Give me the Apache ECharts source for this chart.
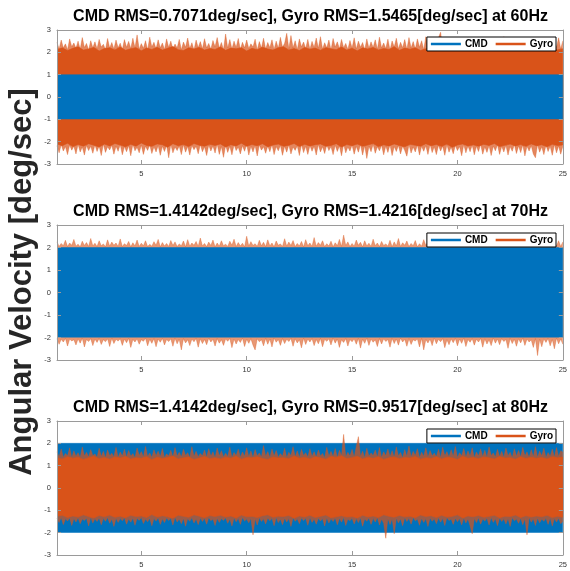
<!DOCTYPE html>
<html>
<head>
<meta charset="utf-8">
<script src="https://cdn.jsdelivr.net/npm/echarts@6/dist/echarts.min.js"></script>
<style>html,body{margin:0;padding:0;background:#fff;}#chart{width:570px;height:571px;}</style>
</head>
<body>
<div id="chart"></div>
<script>
// ---- Data ----
const titles = [
  'CMD RMS=0.7071deg/sec], Gyro RMS=1.5465[deg/sec] at 60Hz',
  'CMD RMS=1.4142deg/sec], Gyro RMS=1.4216[deg/sec] at 70Hz',
  'CMD RMS=1.4142deg/sec], Gyro RMS=0.9517[deg/sec] at 80Hz'
];
const yLabel = 'Angular Velocity [deg/sec]';
const legendNames = ['CMD', 'Gyro'];
const xTicks = [5, 10, 15, 20, 25];
const yTicks = [-3, -2, -1, 0, 1, 2, 3];
const xRange = [1, 25];

// CMD sine band (constant amplitude envelope)
const cmdTime = [1, 25];
const cmdAmp = [1, 2, 2];

// Gyro spike envelopes, sampled every 0.1 s from t = 1 s
const S0 = 1, SDT = 0.1;
const g1Hi = [2.45,2.15,2.55,2.2,2.38,2.12,2.6,2.25,2.42,2.18,
  2.5,2.14,2.66,2.22,2.4,2.1,2.52,2.2,2.47,2.16,
  2.58,2.24,2.36,2.12,2.62,2.19,2.44,2.15,2.55,2.21,
  2.41,2.13,2.57,2.23,2.49,2.17,2.63,2.2,2.78,2.14,
  2.39,2.18,2.52,2.11,2.68,2.24,2.45,2.16,2.56,2.2,
  2.42,2.13,2.6,2.22,2.5,2.15,2.37,2.19,2.58,2.12,
  2.46,2.23,2.64,2.17,2.43,2.1,2.55,2.21,2.48,2.16,
  2.61,2.2,2.4,2.14,2.53,2.25,2.66,2.18,2.44,2.12,
  2.82,2.19,2.57,2.15,2.5,2.22,2.62,2.13,2.45,2.2,
  2.55,2.17,2.38,2.24,2.59,2.11,2.48,2.19,2.63,2.15,
  2.44,2.21,2.56,2.13,2.5,2.18,2.67,2.23,2.41,2.85,
  2.16,2.75,2.2,2.52,2.12,2.6,2.25,2.46,2.17,2.58,
  2.14,2.49,2.22,2.64,2.18,2.7,2.15,2.43,2.2,2.55,
  2.11,2.62,2.24,2.47,2.16,2.58,2.21,2.4,2.13,2.53,
  2.19,2.65,2.15,2.5,2.23,2.44,2.12,2.6,2.18,2.47,
  2.22,2.56,2.14,2.68,2.2,2.42,2.17,2.59,2.11,2.51,
  2.24,2.63,2.16,2.45,2.21,2.57,2.13,2.66,2.19,2.48,
  2.15,2.6,2.23,2.52,2.12,2.7,2.18,2.44,2.22,2.58,
  2.14,2.65,2.9,2.2,2.55,2.17,2.47,2.24,2.62,2.13,
  2.5,2.19,2.64,2.15,2.43,2.22,2.57,2.11,2.68,2.2,
  2.46,2.16,2.59,2.23,2.52,2.14,2.61,2.18,2.4,2.21,
  2.56,2.13,2.7,2.2,2.45,2.17,2.63,2.24,2.5,2.12,
  2.58,2.19,2.42,2.15,2.66,2.22,2.53,2.16,2.6,2.2,
  2.47,2.14,2.62,2.21,2.55,2.18,2.44,2.23,2.65,2.15,
  2.52];
const g1Lo = [-2.18,-2.5,-2.13,-2.42,-2.22,-2.58,-2.15,-2.38,-2.2,-2.55,
  -2.12,-2.46,-2.24,-2.6,-2.17,-2.4,-2.21,-2.52,-2.14,-2.44,
  -2.19,-2.62,-2.11,-2.48,-2.23,-2.37,-2.16,-2.56,-2.2,-2.43,
  -2.13,-2.59,-2.22,-2.45,-2.18,-2.63,-2.12,-2.41,-2.25,-2.5,
  -2.15,-2.57,-2.2,-2.39,-2.14,-2.53,-2.23,-2.46,-2.17,-2.61,
  -2.21,-2.44,-2.16,-2.72,-2.12,-2.5,-2.24,-2.4,-2.19,-2.58,
  -2.14,-2.47,-2.22,-2.6,-2.17,-2.36,-2.2,-2.54,-2.13,-2.45,
  -2.23,-2.62,-2.15,-2.42,-2.19,-2.51,-2.11,-2.57,-2.22,-2.7,
  -2.16,-2.48,-2.2,-2.59,-2.14,-2.4,-2.24,-2.55,-2.18,-2.43,
  -2.12,-2.6,-2.21,-2.46,-2.17,-2.64,-2.15,-2.38,-2.23,-2.52,
  -2.19,-2.45,-2.13,-2.58,-2.22,-2.41,-2.16,-2.61,-2.2,-2.47,
  -2.14,-2.55,-2.24,-2.39,-2.18,-2.62,-2.12,-2.49,-2.21,-2.57,
  -2.17,-2.43,-2.2,-2.6,-2.13,-2.46,-2.23,-2.53,-2.15,-2.4,
  -2.22,-2.58,-2.16,-2.44,-2.19,-2.63,-2.11,-2.5,-2.24,-2.42,
  -2.15,-2.56,-2.21,-2.47,-2.13,-2.6,-2.18,-2.75,-2.2,-2.45,
  -2.12,-2.52,-2.23,-2.41,-2.16,-2.59,-2.19,-2.48,-2.14,-2.62,
  -2.22,-2.44,-2.17,-2.55,-2.2,-2.4,-2.65,-2.13,-2.51,-2.24,
  -2.46,-2.15,-2.6,-2.21,-2.43,-2.18,-2.57,-2.12,-2.49,-2.23,
  -2.58,-2.16,-2.42,-2.2,-2.61,-2.14,-2.47,-2.24,-2.54,-2.17,
  -2.4,-2.22,-2.63,-2.13,-2.5,-2.19,-2.45,-2.15,-2.59,-2.21,
  -2.44,-2.12,-2.56,-2.23,-2.48,-2.17,-2.62,-2.2,-2.41,-2.14,
  -2.57,-2.21,-2.46,-2.16,-2.6,-2.22,-2.43,-2.13,-2.53,-2.19,
  -2.49,-2.15,-2.64,-2.2,-2.42,-2.18,-2.55,-2.72,-2.14,-2.47,
  -2.23,-2.58,-2.16,-2.44,-2.21,-2.61,-2.13,-2.5,-2.19,-2.56,
  -2.2];
const g2Hi = [2.25,2.05,2.18,2.08,2.32,2.04,2.2,2.1,2.36,2.06,
  2.15,2.03,2.28,2.09,2.22,2.05,2.4,2.07,2.19,2.04,
  2.3,2.08,2.16,2.03,2.34,2.06,2.24,2.1,2.2,2.05,
  2.38,2.04,2.17,2.09,2.27,2.03,2.21,2.07,2.33,2.05,
  2.19,2.08,2.3,2.04,2.14,2.06,2.26,2.1,2.36,2.03,
  2.22,2.07,2.18,2.05,2.31,2.09,2.25,2.04,2.16,2.08,
  2.29,2.03,2.35,2.06,2.2,2.1,2.27,2.05,2.42,2.07,
  2.18,2.04,2.24,2.09,2.33,2.03,2.2,2.06,2.3,2.08,
  2.15,2.05,2.28,2.1,2.37,2.04,2.22,2.07,2.19,2.03,
  2.5,2.06,2.26,2.09,2.17,2.05,2.32,2.08,2.23,2.04,
  2.34,2.07,2.2,2.03,2.29,2.1,2.16,2.05,2.39,2.06,
  2.24,2.09,2.31,2.04,2.18,2.07,2.27,2.03,2.35,2.08,
  2.2,2.05,2.44,2.06,2.22,2.1,2.3,2.04,2.17,2.07,
  2.28,2.03,2.21,2.08,2.36,2.05,2.55,2.09,2.25,2.04,
  2.18,2.06,2.33,2.1,2.23,2.03,2.3,2.07,2.19,2.05,
  2.37,2.08,2.2,2.04,2.27,2.09,2.16,2.06,2.32,2.03,
  2.25,2.07,2.4,2.05,2.21,2.1,2.29,2.04,2.18,2.08,
  2.31,2.03,2.17,2.06,2.35,2.09,2.24,2.05,2.2,2.07,
  2.28,2.04,2.36,2.1,2.19,2.06,2.43,2.03,2.22,2.08,
  2.16,2.05,2.3,2.07,2.25,2.04,2.34,2.09,2.2,2.06,
  2.38,2.1,2.23,2.03,2.29,2.08,2.17,2.05,2.32,2.07,
  2.21,2.04,2.27,2.09,2.4,2.06,2.19,2.03,2.3,2.1,
  2.24,2.05,2.35,2.07,2.18,2.04,2.28,2.08,2.33,2.06,
  2.2,2.09,2.26,2.03,2.37,2.05,2.22,2.07,2.3,2.04,
  2.25];
const g2Lo = [-2.05,-2.3,-2.08,-2.2,-2.04,-2.38,-2.07,-2.15,-2.1,-2.33,
  -2.06,-2.25,-2.03,-2.42,-2.09,-2.18,-2.05,-2.36,-2.07,-2.22,
  -2.04,-2.31,-2.1,-2.19,-2.06,-2.4,-2.03,-2.27,-2.08,-2.16,
  -2.05,-2.35,-2.07,-2.23,-2.04,-2.44,-2.09,-2.2,-2.06,-2.3,
  -2.1,-2.17,-2.03,-2.37,-2.08,-2.26,-2.05,-2.41,-2.07,-2.21,
  -2.04,-2.33,-2.09,-2.18,-2.06,-2.39,-2.03,-2.28,-2.08,-2.55,
  -2.05,-2.24,-2.1,-2.36,-2.07,-2.19,-2.04,-2.43,-2.06,-2.27,
  -2.09,-2.32,-2.03,-2.2,-2.08,-2.38,-2.05,-2.25,-2.1,-2.35,
  -2.06,-2.17,-2.04,-2.45,-2.07,-2.29,-2.09,-2.22,-2.03,-2.4,
  -2.08,-2.26,-2.05,-2.34,-2.55,-2.06,-2.19,-2.1,-2.37,-2.04,
  -2.3,-2.07,-2.42,-2.03,-2.21,-2.09,-2.35,-2.05,-2.27,-2.08,
  -2.18,-2.04,-2.39,-2.06,-2.24,-2.1,-2.46,-2.03,-2.31,-2.07,
  -2.2,-2.05,-2.36,-2.09,-2.28,-2.04,-2.41,-2.08,-2.17,-2.06,
  -2.33,-2.03,-2.25,-2.07,-2.44,-2.1,-2.22,-2.05,-2.38,-2.09,
  -2.19,-2.06,-2.3,-2.04,-2.47,-2.08,-2.26,-2.03,-2.35,-2.07,
  -2.21,-2.1,-2.4,-2.05,-2.29,-2.06,-2.18,-2.09,-2.43,-2.04,
  -2.27,-2.07,-2.34,-2.03,-2.2,-2.08,-2.39,-2.05,-2.31,-2.1,
  -2.16,-2.06,-2.42,-2.04,-2.55,-2.09,-2.24,-2.07,-2.36,-2.03,
  -2.28,-2.08,-2.19,-2.05,-2.45,-2.1,-2.32,-2.06,-2.23,-2.04,
  -2.37,-2.07,-2.26,-2.03,-2.4,-2.09,-2.21,-2.05,-2.34,-2.08,
  -2.2,-2.04,-2.43,-2.06,-2.29,-2.1,-2.36,-2.03,-2.25,-2.07,
  -2.32,-2.05,-2.18,-2.09,-2.48,-2.04,-2.27,-2.08,-2.39,-2.06,
  -2.24,-2.03,-2.35,-2.07,-2.2,-2.1,-2.44,-2.05,-2.8,-2.08,
  -2.41,-2.06,-2.22,-2.04,-2.37,-2.09,-2.5,-2.03,-2.28,-2.07,
  -2.3];
const g3Hi = [1.62,1.4,1.75,1.38,1.55,1.44,1.8,1.36,1.66,1.42,
  1.58,1.37,1.84,1.43,1.6,1.39,1.72,1.45,1.52,1.38,
  1.78,1.41,1.64,1.36,1.7,1.44,1.56,1.4,1.82,1.37,
  1.61,1.43,1.74,1.38,1.68,1.42,1.54,1.36,1.79,1.45,
  1.63,1.39,1.86,1.41,1.57,1.37,1.71,1.44,1.65,1.4,
  1.77,1.36,1.53,1.43,1.69,1.38,1.81,1.42,1.6,1.39,
  1.73,1.45,1.58,1.37,1.85,1.41,1.64,1.4,1.55,1.44,
  1.7,1.38,1.76,1.42,1.62,1.36,1.79,1.43,1.67,1.39,
  1.56,1.41,1.83,1.37,1.59,1.45,1.74,1.38,1.61,1.42,
  1.8,1.4,1.66,1.36,1.72,1.44,1.57,1.39,1.9,1.41,
  1.63,1.37,1.75,1.43,1.68,1.38,1.54,1.42,1.78,1.36,
  1.6,1.44,1.85,1.4,1.66,1.37,1.73,1.45,1.58,1.39,
  1.76,1.41,1.62,1.38,1.7,1.43,1.55,1.36,1.82,1.42,
  1.64,1.4,1.77,1.37,1.69,1.44,2.4,1.39,1.6,1.43,
  1.73,1.38,1.86,2.3,1.41,1.65,1.36,1.78,1.42,1.57,
  1.45,1.7,1.39,1.81,1.37,1.62,1.44,1.75,1.4,1.67,
  1.38,1.84,1.43,1.59,1.36,1.72,1.41,1.88,1.39,1.64,
  1.45,1.76,1.37,1.6,1.42,1.8,1.38,1.68,1.44,1.56,
  1.4,1.74,1.36,1.83,1.43,1.63,1.39,1.71,1.41,1.86,
  1.37,1.58,1.44,1.77,1.38,1.66,1.42,1.8,1.36,1.61,
  1.43,1.75,1.4,1.69,1.37,1.84,1.45,1.57,1.39,1.73,
  1.41,1.64,1.38,1.79,1.44,1.6,1.36,1.76,1.42,1.68,
  1.39,1.82,1.43,1.62,1.37,1.71,1.4,1.85,1.38,1.65,
  1.44,1.78,1.36,1.59,1.42,1.74,1.39,1.81,1.41,1.67,
  1.6];
const g3Lo = [-1.36,-1.55,-1.32,-1.64,-1.38,-1.48,-1.34,-1.68,-1.37,-1.52,
  -1.33,-1.6,-1.39,-1.46,-1.35,-1.7,-1.31,-1.57,-1.38,-1.5,
  -1.34,-1.65,-1.36,-1.49,-1.32,-1.58,-1.39,-1.72,-1.35,-1.54,
  -1.37,-1.47,-1.33,-1.62,-1.38,-1.53,-1.34,-1.67,-1.36,-1.45,
  -1.32,-1.59,-1.39,-1.51,-1.35,-1.69,-1.37,-1.48,-1.33,-1.63,
  -1.38,-1.55,-1.34,-1.46,-1.36,-1.66,-1.31,-1.52,-1.39,-1.6,
  -1.35,-1.71,-1.37,-1.49,-1.33,-1.57,-1.38,-1.64,-1.34,-1.5,
  -1.36,-1.62,-1.32,-1.47,-1.39,-1.68,-1.35,-1.54,-1.37,-1.45,
  -1.33,-1.58,-1.38,-1.7,-1.34,-1.51,-1.36,-1.63,-1.32,-1.48,
  -1.39,-1.56,-1.35,-2.1,-1.37,-1.66,-1.33,-1.5,-1.38,-1.61,
  -1.34,-1.47,-1.36,-1.69,-1.32,-1.55,-1.39,-1.64,-1.35,-1.52,
  -1.37,-1.72,-1.33,-1.49,-1.38,-1.6,-1.34,-1.46,-1.36,-1.67,
  -1.32,-1.54,-1.39,-1.62,-1.35,-1.48,-1.37,-1.7,-1.33,-1.57,
  -1.38,-1.5,-1.34,-1.65,-1.36,-1.53,-1.32,-1.68,-1.39,-1.47,
  -1.35,-1.61,-1.37,-1.55,-1.33,-1.71,-1.38,-1.49,-1.34,-1.63,
  -1.36,-1.52,-1.32,-1.66,-1.39,-1.58,-2.25,-1.35,-1.64,-1.37,
  -2.05,-1.34,-1.56,-1.38,-1.69,-1.33,-1.5,-1.36,-1.62,-1.32,
  -1.47,-1.39,-1.67,-1.35,-1.54,-1.37,-1.72,-1.34,-1.49,-1.38,
  -1.6,-1.33,-1.53,-1.36,-1.68,-1.32,-1.46,-1.39,-1.63,-1.35,
  -1.51,-1.37,-1.65,-1.34,-1.57,-1.38,-1.7,-2.05,-1.36,-1.55,
  -1.33,-1.62,-1.39,-1.48,-1.35,-1.66,-1.32,-1.54,-1.37,-1.69,
  -1.34,-1.5,-1.38,-1.61,-1.36,-1.72,-1.33,-1.47,-1.39,-1.58,
  -1.35,-1.64,-1.37,-2.1,-1.32,-1.53,-1.38,-1.68,-1.34,-1.56,
  -1.39,-1.49,-1.36,-1.63,-1.33,-1.7,-1.37,-1.52,-1.35,-1.6,
  -1.5];

// Gyro dense core envelopes, sampled every 0.25 s from t = 1 s
const C0 = 1, CDT = 0.25;
const g1HiCore = [2.12,2.2,2.08,2.18,2.25,2.1,2.15,2.22,2.06,2.17,
  2.2,2.11,2.24,2.09,2.16,2.21,2.07,2.19,2.13,2.23,
  2.1,2.18,2.26,2.12,2.08,2.2,2.15,2.22,2.1,2.17,
  2.13,2.24,2.09,2.19,2.16,2.21,2.06,2.18,2.12,2.23,
  2.15,2.1,2.2,2.25,2.11,2.17,2.08,2.22,2.14,2.19,
  2.09,2.21,2.16,2.12,2.24,2.1,2.18,2.07,2.2,2.15,
  2.22,2.11,2.17,2.13,2.25,2.09,2.19,2.14,2.21,2.08,
  2.16,2.23,2.12,2.18,2.1,2.2,2.15,2.24,2.11,2.17,
  2.13,2.21,2.08,2.19,2.16,2.22,2.1,2.18,2.14,2.2,
  2.12,2.23,2.09,2.17,2.21,2.11,2.16];
const g1LoCore = [-2.1,-2.18,-2.07,-2.22,-2.13,-2.2,-2.09,-2.16,-2.24,-2.11,
  -2.19,-2.08,-2.15,-2.23,-2.12,-2.2,-2.06,-2.17,-2.21,-2.1,
  -2.14,-2.25,-2.09,-2.18,-2.13,-2.22,-2.08,-2.16,-2.2,-2.12,
  -2.17,-2.1,-2.24,-2.14,-2.19,-2.07,-2.21,-2.13,-2.18,-2.09,
  -2.23,-2.15,-2.11,-2.2,-2.16,-2.08,-2.22,-2.12,-2.19,-2.14,
  -2.1,-2.21,-2.17,-2.09,-2.24,-2.13,-2.18,-2.11,-2.2,-2.15,
  -2.08,-2.22,-2.14,-2.19,-2.1,-2.17,-2.23,-2.12,-2.16,-2.2,
  -2.09,-2.18,-2.13,-2.21,-2.11,-2.25,-2.15,-2.1,-2.19,-2.14,
  -2.2,-2.12,-2.17,-2.08,-2.22,-2.16,-2.11,-2.19,-2.13,-2.21,
  -2.1,-2.18,-2.14,-2.23,-2.12,-2.17,-2.15];
const g3HiCore = [1.35,1.3,1.4,1.33,1.38,1.28,1.36,1.42,1.31,1.37,
  1.29,1.39,1.34,1.41,1.3,1.36,1.33,1.4,1.27,1.38,
  1.32,1.37,1.43,1.3,1.35,1.39,1.28,1.34,1.41,1.31,
  1.36,1.3,1.38,1.33,1.42,1.29,1.37,1.35,1.4,1.32,
  1.28,1.39,1.34,1.36,1.31,1.43,1.33,1.38,1.3,1.4,
  1.35,1.29,1.41,1.37,1.44,1.32,1.36,1.42,1.3,1.38,
  1.33,1.4,1.28,1.35,1.39,1.31,1.37,1.34,1.41,1.29,
  1.36,1.32,1.4,1.3,1.38,1.35,1.28,1.42,1.33,1.37,
  1.31,1.39,1.35,1.3,1.41,1.34,1.36,1.29,1.4,1.32,
  1.38,1.33,1.37,1.3,1.4,1.35,1.39];
const g3LoCore = [-1.27,-1.22,-1.32,-1.25,-1.3,-1.2,-1.28,-1.34,-1.23,-1.29,
  -1.21,-1.31,-1.26,-1.33,-1.22,-1.28,-1.25,-1.32,-1.19,-1.3,
  -1.24,-1.29,-1.35,-1.22,-1.27,-1.31,-1.2,-1.26,-1.33,-1.23,
  -1.28,-1.22,-1.3,-1.25,-1.34,-1.21,-1.29,-1.27,-1.32,-1.24,
  -1.2,-1.31,-1.26,-1.28,-1.23,-1.35,-1.25,-1.3,-1.22,-1.32,
  -1.27,-1.21,-1.33,-1.29,-1.24,-1.3,-1.28,-1.34,-1.22,-1.3,
  -1.25,-1.32,-1.2,-1.27,-1.31,-1.23,-1.29,-1.26,-1.33,-1.21,
  -1.28,-1.24,-1.32,-1.22,-1.3,-1.27,-1.2,-1.34,-1.25,-1.29,
  -1.23,-1.31,-1.27,-1.22,-1.33,-1.26,-1.28,-1.21,-1.32,-1.24,
  -1.3,-1.25,-1.29,-1.22,-1.32,-1.27,-1.31];

// ---- Build chart ----
const BLUE = '#0072BD', ORANGE = '#D95319', FRAME = '#9a9a9a', TXT = '#333333';
const FONT = '"Liberation Sans", Arial, sans-serif';
const spikeTime = g1Hi.map((_, i) => S0 + i * SDT);
const coreTime = g1HiCore.map((_, i) => C0 + i * CDT);

const grids = [
  {left: 57, top: 30, width: 507, height: 134},
  {left: 57, top: 225, width: 507, height: 135},
  {left: 57, top: 421, width: 507, height: 134}
];
const titleY = [17, 212, 408];
const legendTop = [37, 233, 429];

const xAxes = [], yAxes = [];
grids.forEach((g, gi) => {
  xAxes.push({
    type: 'value', gridIndex: gi, position: 'bottom', min: xRange[0], max: xRange[1],
    axisLine: {show: true, onZero: false, lineStyle: {color: FRAME, width: 1}},
    axisTick: {show: true, inside: true, length: 4, customValues: xTicks, lineStyle: {color: FRAME}},
    axisLabel: {show: true, customValues: xTicks, fontSize: 7.5, color: TXT, margin: 6, fontFamily: FONT},
    splitLine: {show: false}, z: 20
  });
  xAxes.push({
    type: 'value', gridIndex: gi, position: 'top', min: xRange[0], max: xRange[1],
    axisLine: {show: true, onZero: false, lineStyle: {color: FRAME, width: 1}},
    axisTick: {show: true, inside: true, length: 4, customValues: xTicks, lineStyle: {color: FRAME}},
    axisLabel: {show: false}, splitLine: {show: false}, z: 20
  });
  yAxes.push({
    type: 'value', gridIndex: gi, position: 'left', min: yTicks[0], max: yTicks[yTicks.length - 1], interval: 1,
    axisLine: {show: true, onZero: false, lineStyle: {color: FRAME, width: 1}},
    axisTick: {show: true, inside: true, length: 4, lineStyle: {color: FRAME}},
    axisLabel: {show: true, fontSize: 7.5, color: TXT, margin: 6, fontFamily: FONT},
    splitLine: {show: false}, z: 20
  });
  yAxes.push({
    type: 'value', gridIndex: gi, position: 'right', min: yTicks[0], max: yTicks[yTicks.length - 1], interval: 1,
    axisLine: {show: true, onZero: false, lineStyle: {color: FRAME, width: 1}},
    axisTick: {show: true, inside: true, length: 4, lineStyle: {color: FRAME}},
    axisLabel: {show: false}, splitLine: {show: false}, z: 20
  });
});

function band(name, times, values, gi, color, lineW, lineOp, areaOp, z, origin) {
  return {
    type: 'line', name: name, xAxisIndex: 2 * gi, yAxisIndex: 2 * gi,
    data: values.map((v, i) => [times[i], v]),
    symbol: 'none', silent: true, animation: false, z: z, color: color,
    lineStyle: {color: color, width: lineW, opacity: lineOp},
    areaStyle: {color: color, opacity: areaOp, origin: origin}
  };
}
function cmdBand(gi, z) {
  const a = cmdAmp[gi];
  return band('CMD', cmdTime, cmdTime.map(() => a), gi, BLUE, 0.5, 1, 1, z, -a);
}

const series = [
  // plot 1: gyro below, cmd on top
  band('Gyro', spikeTime, g1Hi, 0, ORANGE, 0.6, 0.6, 0.7, 2, -1),
  band('gyroLo1', spikeTime, g1Lo, 0, ORANGE, 0.6, 0.6, 0.7, 2, 0),
  band('gyroCoreHi1', coreTime, g1HiCore, 0, ORANGE, 0.6, 1, 1, 3, -1),
  band('gyroCoreLo1', coreTime, g1LoCore, 0, ORANGE, 0.6, 1, 1, 3, 0),
  cmdBand(0, 4),
  // plot 2
  band('Gyro', spikeTime, g2Hi, 1, ORANGE, 0.6, 0.6, 0.6, 2, -1),
  band('gyroLo2', spikeTime, g2Lo, 1, ORANGE, 0.6, 0.6, 0.6, 2, 0),
  cmdBand(1, 4),
  // plot 3: cmd below, gyro on top
  cmdBand(2, 2),
  band('Gyro', spikeTime, g3Hi, 2, ORANGE, 0.6, 0.6, 0.7, 3, -1),
  band('gyroLo3', spikeTime, g3Lo, 2, ORANGE, 0.6, 0.6, 0.7, 3, 0),
  band('gyroCoreHi3', coreTime, g3HiCore, 2, ORANGE, 0.6, 1, 1, 4, -1),
  band('gyroCoreLo3', coreTime, g3LoCore, 2, ORANGE, 0.6, 1, 1, 4, 0)
];

const legends = legendTop.map(t => ({
  top: t, right: 14, orient: 'horizontal', selectedMode: false,
  itemWidth: 30, itemHeight: 2.5, itemGap: 8,
  padding: [2, 3, 2, 4], borderColor: '#000', borderWidth: 1, backgroundColor: '#fff',
  textStyle: {fontSize: 10, fontWeight: 'bold', color: '#000', fontFamily: FONT, padding: [0, 0, 0, -1]},
  data: [
    {name: legendNames[0], icon: 'rect', itemStyle: {color: BLUE, opacity: 1}},
    {name: legendNames[1], icon: 'rect', itemStyle: {color: ORANGE, opacity: 1}}
  ],
  z: 10
}));

const graphics = titles.map((txt, i) => ({
  type: 'text', x: 310.5, y: titleY[i], silent: true,
  style: {text: txt, font: 'bold 16px ' + FONT, fill: '#000', textAlign: 'center', textVerticalAlign: 'middle'}
}));
graphics.push({
  type: 'text', x: 22, y: 282, rotation: Math.PI / 2, silent: true,
  style: {text: yLabel, font: 'bold 31px ' + FONT, fill: '#262626', textAlign: 'center', textVerticalAlign: 'middle'}
});

const chart = echarts.init(document.getElementById('chart'), null, {renderer: 'canvas'});
chart.setOption({
  animation: false,
  backgroundColor: '#fff',
  grid: grids,
  xAxis: xAxes,
  yAxis: yAxes,
  legend: legends,
  series: series,
  graphic: graphics
});
</script>
</body>
</html>
